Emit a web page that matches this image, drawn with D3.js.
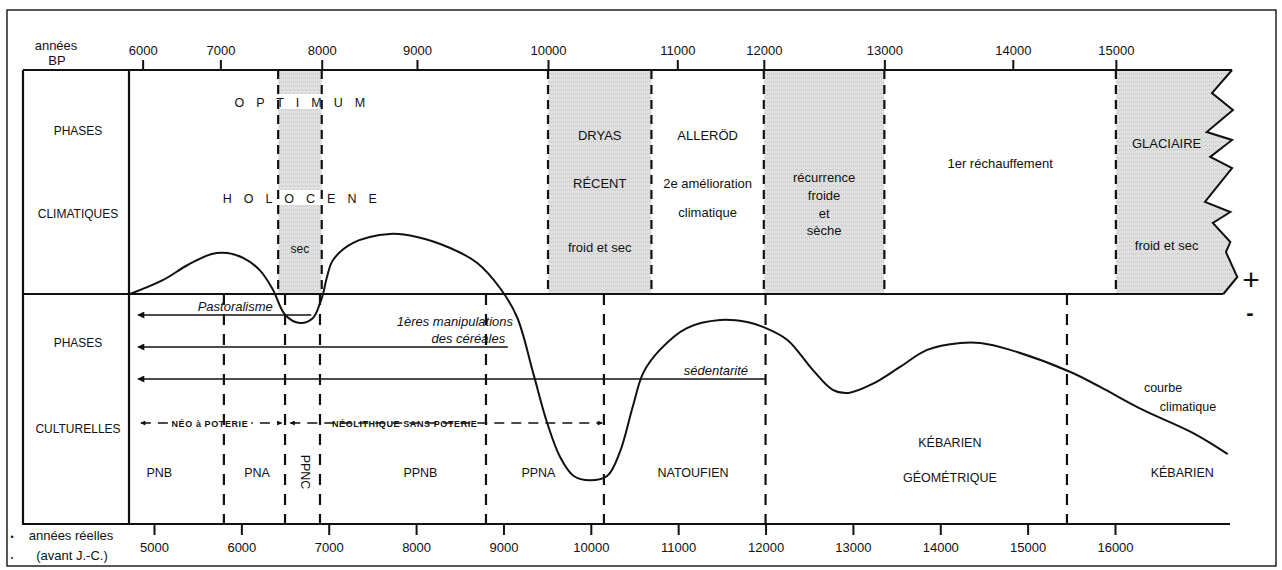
<!DOCTYPE html>
<meta charset="utf-8">
<script src="https://d3js.org/d3.v7.min.js"></script>
<style>
  body { margin: 0; background: #fff; }
  text { font-family: "Liberation Sans", Arial, Helvetica, sans-serif; fill: #111; }
  .axis text { font-size: 13px; }
  .axis line { stroke: #111; stroke-width: 2px; }
  .axis .domain { display: none; }
</style>
<div id="chart"></div>
<script>
// ---------------------------//
//            DATA            //
// ---------------------------//

// upper scale : years BP, and where they fall on the calendar scale (years BC)
const bpTicks = [6000, 7000, 8000, 9000, 10000, 11000, 12000, 13000, 14000, 15000];
const bpCalBC = [4870, 5760, 6920, 8010, 9510, 10990, 11980, 13360, 14830, 16010];
// lower scale : real years BC
const bcTicks = [5000, 6000, 7000, 8000, 9000, 10000, 11000, 12000, 13000, 14000, 15000, 16000];

// climatic phases (years BP)
const climFromBP = [7570, 10000, 10800, 12000, 13000, 15000];
const climToBP = [8000, 10800, 12000, 13000, 15000, null];
const climShaded = [true, true, false, true, false, true];
const climLabels = [
  ["sec"],
  ["DRYAS", "RÉCENT", "froid et sec"],
  ["ALLERÖD", "2e amélioration", "climatique"],
  ["récurrence", "froide", "et", "sèche"],
  ["1er réchauffement"],
  ["GLACIAIRE", "froid et sec"]
];
const holoceneLabels = ["O P T I M U M", "H O L O C E N E"];

// torn right edge of the glacial phase (years BC, fraction of panel height)
const edgeBC = [17340, 17110, 17350, 17050, 17340, 17090, 17340, 17030, 17320, 17120, 17320, 17270, 17400, 17240];
const edgeT = [0, 0.103, 0.179, 0.277, 0.3125, 0.388, 0.4375, 0.589, 0.634, 0.683, 0.768, 0.813, 0.924, 1];

// cultural phases (years BC)
const cultBoundsBC = [5800, 6500, 6900, 8800, 10150, 12000, 15450];
const cultNames = [["PNB"], ["PNA"], ["PPNC"], ["PPNB"], ["PPNA"], ["NATOUFIEN"], ["KÉBARIEN", "GÉOMÉTRIQUE"], ["KÉBARIEN"]];
const cultLabelBC = [5060, 6180, 6730, 8050, 9400, 11170, 14110, 16770];

// neolithic periods
const eraNames = ["NÉO à POTERIE", "NÉOLITHIQUE SANS POTERIE"];
const eraFromBC = [4850, 6560];
const eraToBC = [6460, 10130];
const eraLabelBC = [5640, 7870];

// cultural processes (arrows pointing to the present)
const arrowLabels = [["Pastoralisme"], ["1ères manipulations", "des céréales"], ["sédentarité"]];
const arrowEndBC = [6800, 9050, 12000];
const arrowLabelEndBC = [[6360], [9110, 9020], [11800]];

// climatic curve (years BC, + warm / - cold)
const curveBC = [4725, 5100, 5380, 5660, 5840, 6020, 6210, 6360, 6500, 6670,
  6820, 6900, 6935, 6980, 7050, 7280, 7700, 8010, 8390, 8700,
  8960, 9155, 9340, 9500, 9650, 9800, 9990, 10190, 10330, 10480,
  10600, 10790, 11100, 11480, 11790, 11970, 12250, 12540, 12770, 12950,
  13230, 13540, 13850, 14230, 14460, 14800, 15490, 15830, 16320, 16890, 17290];
const curveVal = [0, 0.6, 1.25, 1.74, 1.78, 1.57, 1.04, 0.2, -0.9, -1.26,
  -1.04, -0.4, 0, 0.74, 1.48, 2.22, 2.61, 2.48, 2.0, 1.35,
  0.26, -1.0, -3.43, -5.6, -7.1, -7.9, -8.1, -7.9, -6.9, -4.9,
  -3.43, -2.43, -1.48, -1.13, -1.22, -1.43, -2.0, -3.3, -4.17, -4.3,
  -3.9, -3.17, -2.43, -2.13, -2.13, -2.43, -3.39, -4.04, -5.04, -6.04, -6.96];

// ---------------------------//
//        LAYOUT / SCALES     //
// ---------------------------//
const W = 1282, H = 570;
const yTop = 70, yMid = 294, yBot = 524;
const xBoxL = 23, xAxis = 129;

const svg = d3.select("#chart").append("svg")
  .attr("width", W).attr("height", H);

const x = d3.scaleLinear().domain([5000, 16000]).range([154, 1115]);
const xbp = d3.scaleLinear().domain(bpTicks).range(bpCalBC.map(d => x(d)));
const y = d3.scaleLinear().domain([-10, 10]).range([yBot, yMid - (yBot - yMid)]);

const defs = svg.append("defs");
const pat = defs.append("pattern").attr("id", "stipple")
  .attr("width", 4).attr("height", 4).attr("patternUnits", "userSpaceOnUse");
pat.append("rect").attr("width", 4).attr("height", 4).attr("fill", "#e0e0e0");
pat.append("rect").attr("x", 1).attr("y", 1).attr("width", 1).attr("height", 1).attr("fill", "#b9b9b9");
pat.append("rect").attr("x", 3).attr("y", 2).attr("width", 1).attr("height", 1).attr("fill", "#c6c6c6");

// arrow head: drawn pointing right, reversed automatically at the start of a line
function arrowMarker(id, w, h) {
  defs.append("marker").attr("id", id)
    .attr("viewBox", "0 0 10 10").attr("refX", 9).attr("refY", 5)
    .attr("markerWidth", w).attr("markerHeight", h).attr("markerUnits", "userSpaceOnUse")
    .attr("orient", "auto-start-reverse")
    .append("path").attr("d", "M0,0 L10,5 L0,10 z").attr("fill", "#111");
}
arrowMarker("arrow", 10, 7);
arrowMarker("arrowSmall", 7, 5);

// outer frame
svg.append("rect")
  .attr("x", 7).attr("y", 10).attr("width", 1269).attr("height", 556)
  .attr("fill", "none").attr("stroke", "#222").attr("stroke-width", 1.5);

// ---------------------------//
//     CLIMATIC PHASES        //
// ---------------------------//
const edgePts = edgeBC.map((d, i) => [x(d), yTop + edgeT[i] * (yMid - yTop)]);
const xEdgeTop = edgePts[0][0], xEdgeBot = edgePts[edgePts.length - 1][0];

climFromBP.forEach((from, i) => {
  if (!climShaded[i]) return;
  if (climToBP[i] !== null) {
    svg.append("rect")
      .attr("x", xbp(from)).attr("y", yTop)
      .attr("width", xbp(climToBP[i]) - xbp(from)).attr("height", yMid - yTop)
      .attr("fill", "url(#stipple)");
  } else {
    const pts = [[xbp(from), yTop]].concat(edgePts, [[xbp(from), yMid]]);
    svg.append("path")
      .attr("d", d3.line()(pts) + "Z")
      .attr("fill", "url(#stipple)");
  }
});

// white gaps behind the "optimum holocene" words
const holoY = [102, 198];
holoY.forEach(yy => {
  svg.append("rect")
    .attr("x", xbp(climFromBP[0])).attr("y", yy - 8)
    .attr("width", xbp(climToBP[0]) - xbp(climFromBP[0])).attr("height", 15)
    .attr("fill", "#fff");
});

// torn edge
svg.append("path")
  .attr("d", d3.line()(edgePts))
  .attr("fill", "none").attr("stroke", "#111").attr("stroke-width", 2)
  .attr("stroke-linejoin", "miter");

// dashed limits, upper panel
const climBounds = Array.from(new Set(climFromBP.concat(climToBP.filter(d => d !== null)))).sort(d3.ascending);
svg.append("g").selectAll("line")
  .data(climBounds)
  .join("line")
    .attr("x1", d => xbp(d)).attr("x2", d => xbp(d))
    .attr("y1", yTop).attr("y2", yMid)
    .attr("stroke", "#111").attr("stroke-width", 2.2)
    .attr("stroke-dasharray", "9,6");

// ---------------------------//
//     CULTURAL PHASES        //
// ---------------------------//

// era dashed double arrows
const eraY = 423;
eraNames.forEach((name, i) => {
  svg.append("line")
    .attr("x1", x(eraFromBC[i])).attr("x2", x(eraToBC[i]))
    .attr("y1", eraY).attr("y2", eraY)
    .attr("stroke", "#111").attr("stroke-width", 1.6)
    .attr("stroke-dasharray", "10,7")
    .attr("marker-start", "url(#arrowSmall)")
    .attr("marker-end", "url(#arrowSmall)");
  const t = svg.append("text")
    .attr("x", x(eraLabelBC[i])).attr("y", eraY + 3.5)
    .attr("text-anchor", "middle")
    .style("font-size", "9px").style("font-weight", "bold").style("letter-spacing", "0.6px")
    .text(name);
  const bb = t.node().getBBox();
  svg.insert("rect", "text")
    .attr("x", bb.x - 3).attr("y", bb.y).attr("width", bb.width + 6).attr("height", bb.height)
    .attr("fill", "#fff");
});

// dashed limits, lower panel
svg.append("g").selectAll("line")
  .data(cultBoundsBC)
  .join("line")
    .attr("x1", d => x(d)).attr("x2", d => x(d))
    .attr("y1", yMid).attr("y2", yBot)
    .attr("stroke", "#111").attr("stroke-width", 2.2)
    .attr("stroke-dasharray", "11,9");

// ---------------------------//
//       FRAME AND AXES       //
// ---------------------------//
const frame = svg.append("g").attr("stroke", "#111").attr("stroke-width", 2.2);
frame.append("line").attr("x1", xBoxL).attr("x2", xEdgeTop).attr("y1", yTop).attr("y2", yTop);
frame.append("line").attr("x1", xBoxL).attr("x2", xEdgeBot).attr("y1", yMid).attr("y2", yMid);
frame.append("line").attr("x1", xBoxL - 1).attr("x2", 1230).attr("y1", yBot).attr("y2", yBot);
frame.append("line").attr("x1", xBoxL).attr("x2", xBoxL).attr("y1", yTop).attr("y2", yBot);
frame.append("line").attr("x1", xAxis).attr("x2", xAxis).attr("y1", yTop).attr("y2", yBot);

svg.append("g")
  .attr("class", "axis")
  .attr("transform", `translate(0,${yTop})`)
  .call(d3.axisTop(xbp).tickValues(bpTicks).tickSize(10).tickPadding(5).tickFormat(d3.format("d")));

svg.append("g")
  .attr("class", "axis")
  .attr("transform", `translate(0,${yBot})`)
  .call(d3.axisBottom(x).tickValues(bcTicks).tickSize(11).tickPadding(8).tickFormat(d3.format("d")));

// axis titles
svg.append("text").attr("x", 56).attr("y", 50).attr("text-anchor", "middle")
  .style("font-size", "13px").text("années");
svg.append("text").attr("x", 57).attr("y", 65).attr("text-anchor", "middle")
  .style("font-size", "13px").text("BP");
svg.append("text").attr("x", 71).attr("y", 540).attr("text-anchor", "middle")
  .style("font-size", "13px").text("années réelles");
svg.append("text").attr("x", 72).attr("y", 560).attr("text-anchor", "middle")
  .style("font-size", "13px").text("(avant J.-C.)");
svg.append("text").attr("x", 12).attr("y", 540).attr("text-anchor", "middle")
  .style("font-size", "9px").text("•");
svg.append("text").attr("x", 12).attr("y", 560).attr("text-anchor", "middle")
  .style("font-size", "7px").text("•");

// row titles
const rowTitles = ["PHASES", "CLIMATIQUES", "PHASES", "CULTURELLES"];
const rowY = [130, 213, 342, 428];
svg.append("g").selectAll("text")
  .data(rowTitles)
  .join("text")
    .attr("x", 78).attr("y", (d, i) => rowY[i] + 4.5)
    .attr("text-anchor", "middle")
    .style("font-size", "12px")
    .text(d => d);

// + / - signs
svg.append("text").attr("x", 1251).attr("y", 290).attr("text-anchor", "middle")
  .style("font-size", "30px").text("+");
svg.append("text").attr("x", 1250).attr("y", 320).attr("text-anchor", "middle")
  .style("font-size", "22px").style("font-weight", "bold").text("-");

// ---------------------------//
//         LABELS             //
// ---------------------------//
const climLineY = [[248], [135, 183, 247], [135, 183, 212], [177, 195, 213, 230], [163], [143, 245]];
climLabels.forEach((lines, i) => {
  const x0 = xbp(climFromBP[i]);
  const x1 = climToBP[i] !== null ? xbp(climToBP[i]) : xEdgeBot - 6;
  lines.forEach((s, j) => {
    svg.append("text")
      .attr("x", (x0 + x1) / 2).attr("y", climLineY[i][j] + 4.5)
      .attr("text-anchor", "middle")
      .style("font-size", i === 0 ? "12px" : "13px")
      .text(s);
  });
});

holoceneLabels.forEach((s, i) => {
  svg.append("text")
    .attr("x", (xbp(climFromBP[0]) + xbp(climToBP[0])) / 2 + 2).attr("y", holoY[i] + 5)
    .attr("text-anchor", "middle")
    .style("font-size", "12.5px").style("letter-spacing", "4.3px")
    .text(s);
});

// cultural phase names
const cultLineY = [[472], [472], [472], [472], [472], [472], [442, 477], [472]];
cultNames.forEach((lines, i) => {
  lines.forEach((s, j) => {
    const t = svg.append("text")
      .attr("text-anchor", "middle")
      .style("font-size", "12.5px")
      .text(s);
    if (s === "PPNC") {
      t.attr("transform", `translate(${x(cultLabelBC[i]) - 4.5},${cultLineY[i][j]}) rotate(90)`);
    } else {
      t.attr("x", x(cultLabelBC[i])).attr("y", cultLineY[i][j] + 4.5);
    }
  });
});

// arrows
arrowLabels.forEach((lines, i) => {
  const yy = 315 + 32 * i;
  svg.append("line")
    .attr("x1", 138).attr("x2", x(arrowEndBC[i]))
    .attr("y1", yy).attr("y2", yy)
    .attr("stroke", "#111").attr("stroke-width", 1.6)
    .attr("marker-start", "url(#arrow)");
  lines.forEach((s, j) => {
    svg.append("text")
      .attr("x", x(arrowLabelEndBC[i][j]))
      .attr("y", yy - 4 - (lines.length - 1 - j) * 17)
      .attr("text-anchor", "end")
      .style("font-size", "13px").style("font-style", "italic")
      .text(s);
  });
});

svg.append("text").attr("x", 1163).attr("y", 392).attr("text-anchor", "middle")
  .style("font-size", "12.5px").text("courbe");
svg.append("text").attr("x", 1188).attr("y", 411).attr("text-anchor", "middle")
  .style("font-size", "12.5px").text("climatique");

// ---------------------------//
//       CLIMATIC CURVE       //
// ---------------------------//
svg.append("path")
  .datum(curveBC.map((d, i) => [d, curveVal[i]]))
  .attr("fill", "none")
  .attr("stroke", "#111")
  .attr("stroke-width", 2)
  .attr("d", d3.line()
    .x(d => x(d[0]))
    .y(d => y(d[1]))
    .curve(d3.curveCatmullRom.alpha(0.5)));
</script>
